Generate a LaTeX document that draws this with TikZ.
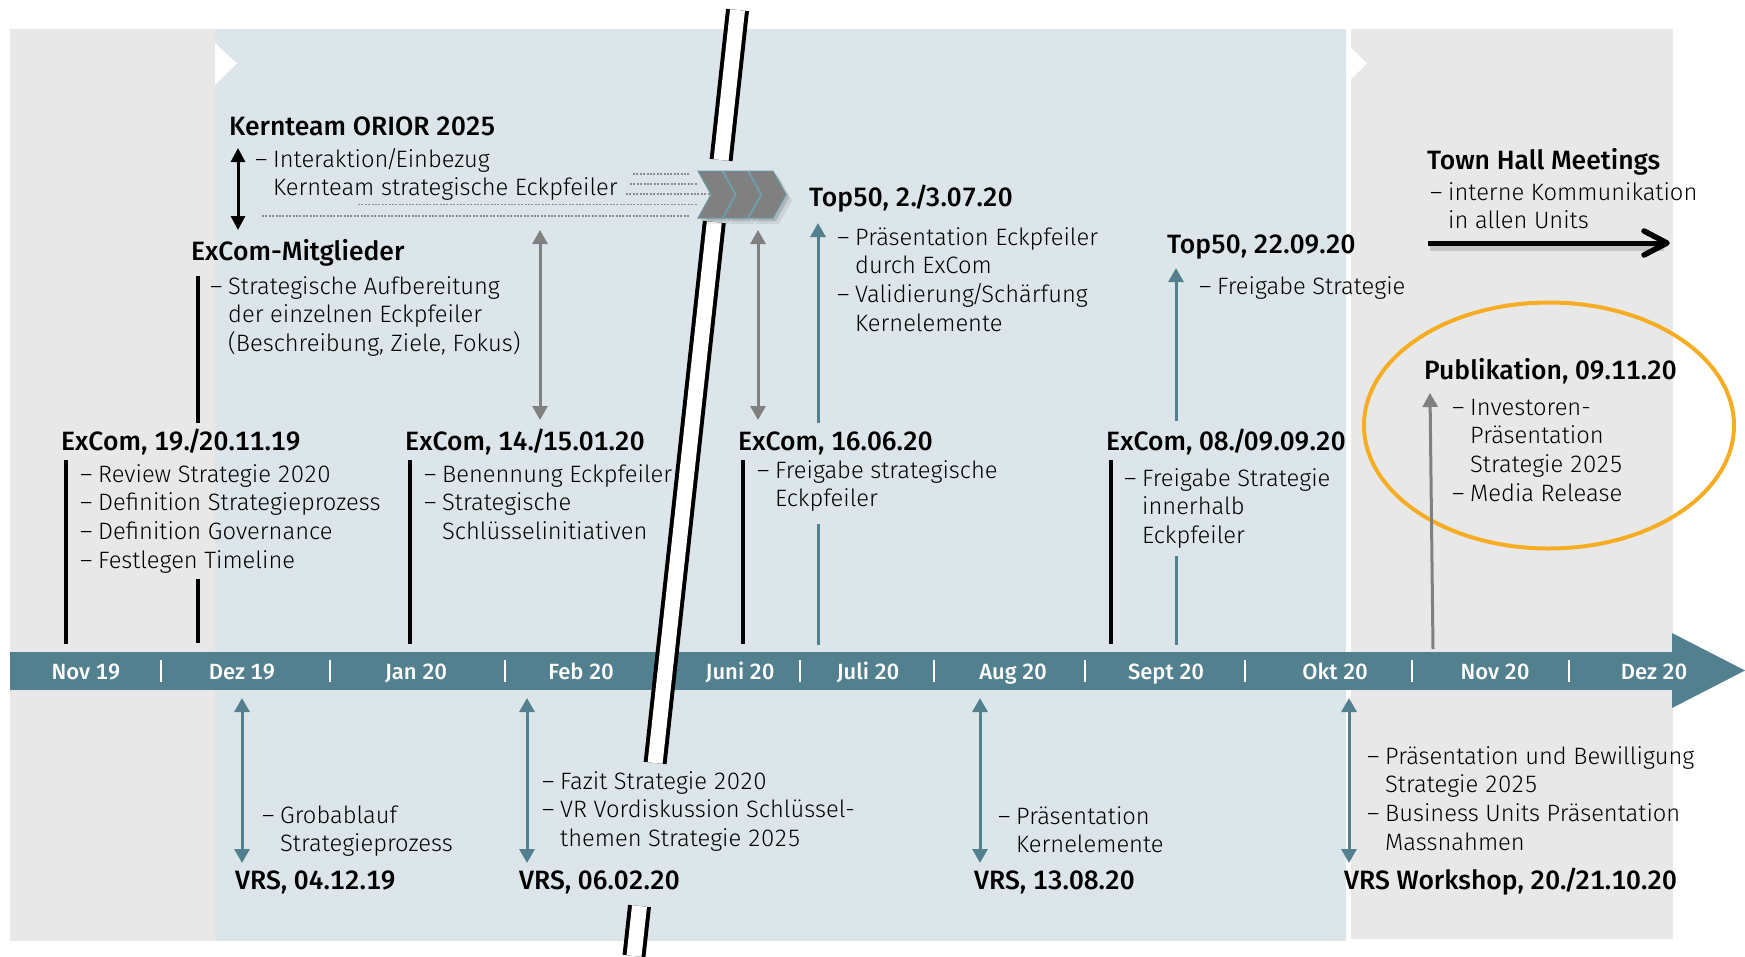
\documentclass[tikz,border=0pt]{standalone}
\usepackage{fontspec}
\setmainfont{Fira Sans Light}[BoldFont={Fira Sans Medium}, Numbers=Monospaced]
\usetikzlibrary{arrows.meta}
\definecolor{barcol}{RGB}{82,128,143}
\definecolor{panelgray}{RGB}{232,232,232}
\definecolor{panelblue}{RGB}{220,230,234}
\definecolor{arrgray}{RGB}{128,128,128}
\definecolor{dotgray}{RGB}{140,140,140}
\definecolor{ringcol}{RGB}{247,173,35}
\definecolor{chevline}{RGB}{106,152,166}
\newcommand{\dsh}{\makebox[18pt][l]{–}}
\newcommand{\tsl}{\kern-2.5pt/\kern-2.5pt}
\tikzset{
  titletext/.style={anchor=base west, inner sep=0pt, font=\bfseries\fontsize{26.5}{30}\selectfont},
  bodytext/.style={anchor=base west, inner sep=0pt, font=\fontsize{23.7}{28.8}\selectfont},
  monthtext/.style={anchor=base, inner sep=0pt, text=white, font=\bfseries\fontsize{22}{24}\selectfont},
  blackbar/.style={draw=black, line width=3.5pt},
  tealline/.style={draw=barcol, line width=3pt},
  tealup/.style={draw=barcol, line width=3pt, -{Triangle[width=15pt,length=14pt]}},
  tealboth/.style={draw=barcol, line width=3pt, {Triangle[width=15pt,length=14pt]}-{Triangle[width=15pt,length=14pt]}},
  grayboth/.style={draw=arrgray, line width=3pt, {Triangle[width=15pt,length=14pt]}-{Triangle[width=15pt,length=14pt]}},
  grayup/.style={draw=arrgray, line width=3pt, -{Triangle[width=15pt,length=14pt]}},
  blackboth/.style={draw=black, line width=3pt, {Triangle[width=14pt,length=14pt]}-{Triangle[width=14pt,length=14pt]}},
  dotline/.style={draw=dotgray, line width=1.8pt, dash pattern=on 2pt off 1.4pt},
  sepline/.style={draw=white, line width=2pt},
}
\begin{document}
\begin{tikzpicture}[x=1pt,y=-1pt]
\useasboundingbox (0,0) rectangle (1745,956);
% panels
\fill[panelgray] (10,29) rectangle (215,941);
\fill[panelblue] (215,29) rectangle (1346,941);
\fill[panelgray] (1351,29) rectangle (1673,939);
\fill[white] (215,43) -- (237,63.5) -- (215,85) -- cycle;
\fill[white] (1346,43) -- (1367,63.5) -- (1346,84) -- cycle;
% timeline bar
\fill[barcol] (10,652) rectangle (1673,690);
\fill[barcol] (1672,633) -- (1745,670.5) -- (1672,708) -- cycle;
% separators
\foreach \sx in {161,330,505,800,934,1085,1245,1412,1569}
  \draw[sepline] (\sx,660) -- (\sx,682);
% months
\node[monthtext] (m1) at (86,679) {Nov 19};
\node[monthtext] (m2) at (242,679) {Dez 19};
\node[monthtext] (m3) at (416,679) {Jan 20};
\node[monthtext] (m4) at (581,679) {Feb 20};
\node[monthtext] (m5) at (740,679) {Juni 20};
\node[monthtext] (m6) at (868,679) {Juli 20};
\node[monthtext] (m7) at (1013,679) {Aug 20};
\node[monthtext] (m8) at (1166,679) {Sept 20};
\node[monthtext] (m9) at (1335,679) {Okt 20};
\node[monthtext] (m10) at (1495,679) {Nov 20};
\node[monthtext] (m11) at (1654,679) {Dez 20};
% break line
\coordinate (br1) at (737.5,10);
\coordinate (br2) at (721.1,160);
\coordinate (br3) at (714.3,222);
\coordinate (br4) at (655.1,763);
\coordinate (br5) at (639.5,906);
\coordinate (br6) at (634.0,956);
\foreach \pa/\pb in {br1/br2,br3/br4,br5/br6}{
  \draw[black, line width=23pt] (\pa) -- (\pb);
  \draw[white, line width=15pt] (\pa) -- (\pb);
}
% dotted lines
\draw[dotline] (633,174) -- (690,174);
\draw[dotline] (630,184) -- (698,184);
\draw[dotline] (626,194) -- (710,194);
\draw[dotline] (358,204.5) -- (697,204.5);
\draw[dotline] (262,216) -- (690,216);
% chevrons
\foreach \cx in {698,723.5,749}{
  \fill[black, opacity=0.08, shift={(\cx+6,6)}] (0,171) -- (24,171) -- (37,194.5) -- (24,218) -- (0,218) -- (13,194.5) -- cycle;
  \fill[black, opacity=0.14, shift={(\cx+3,3)}] (0,171) -- (24,171) -- (37,194.5) -- (24,218) -- (0,218) -- (13,194.5) -- cycle;
}
\foreach \cx in {698,723.5,749}{
  \filldraw[fill=arrgray, draw=chevline, line width=1pt, shift={(\cx,0)}] (0,171) -- (24,171) -- (37,194.5) -- (24,218) -- (0,218) -- (13,194.5) -- cycle;
}
% orange ring
\draw[ringcol, line width=4pt] (1549,425.5) ellipse [x radius=185, y radius=123];
% town hall arrow
\coordinate (th1) at (1428,243);
\coordinate (th2) at (1664,243);
\draw[black, opacity=0.15, line width=8pt] (1430,247) -- (1664,247);
\draw[black, line width=5pt] (th1) -- (th2);
\draw[black, line width=5.5pt, line cap=round, line join=round] (1644,231) -- (1667,243) -- (1644,255);
% titles
\node[titletext] (t1) at (229,135) {Kernteam ORIOR 2025};
\node[titletext] (t2) at (191,260) {ExCom-Mitglieder};
\node[titletext] (t3) at (809,206) {Top50, 2.\tsl3.07.20};
\node[titletext] (t4) at (61,450) {ExCom, 19.\tsl20.11.19};
\node[titletext] (t5) at (405,450) {ExCom, 14.\tsl15.01.20};
\node[titletext] (t6) at (738,450) {ExCom, 16.06.20};
\node[titletext] (t7) at (1106,450) {ExCom, 08.\tsl09.09.20};
\node[titletext] (t8) at (1167,253) {Top50, 22.09.20};
\node[titletext] (t9) at (1427,169) {Town Hall Meetings};
\node[titletext] (t10) at (1424,379) {Publikation, 09.11.20};
\node[titletext] (t11) at (235,889) {VRS, 04.12.19};
\node[titletext] (t12) at (519,889) {VRS, 06.02.20};
\node[titletext] (t13) at (974,889) {VRS, 13.08.20};
\node[titletext] (t14) at (1344,889) {VRS Workshop, 20.\tsl21.10.20};
% body texts
\node[bodytext] (b1) at (255,167) {\begin{tabular}[t]{@{}l@{}l@{}}\dsh&Interaktion\tsl Einbezug\\&Kernteam strategische Eckpfeiler\end{tabular}};
\node[bodytext] (b2) at (210,294) {\begin{tabular}[t]{@{}l@{}l@{}}\dsh&Strategische Aufbereitung\\&der einzelnen Eckpfeiler\\&(Beschreibung, Ziele, Fokus)\end{tabular}};
\node[bodytext] (b3) at (837,245) {\begin{tabular}[t]{@{}l@{}l@{}}\dsh&Präsentation Eckpfeiler\\&durch ExCom\\\dsh&Validierung\tsl Schärfung\\&Kernelemente\end{tabular}};
\node[bodytext] (b4) at (80,482) {\begin{tabular}[t]{@{}l@{}l@{}}\dsh&Review Strategie 2020\\\dsh&Definition Strategieprozess\\\dsh&Definition Governance\\\dsh&Festlegen Timeline\end{tabular}};
\node[bodytext] (b5) at (424,482) {\begin{tabular}[t]{@{}l@{}l@{}}\dsh&Benennung Eckpfeiler\\\dsh&Strategische\\&Schlüsselinitiativen\end{tabular}};
\node[bodytext] (b6) at (757,478) {\begin{tabular}[t]{@{}l@{}l@{}}\dsh&Freigabe strategische\\&Eckpfeiler\end{tabular}};
\node[bodytext] (b7) at (1124,486) {\begin{tabular}[t]{@{}l@{}l@{}}\dsh&Freigabe Strategie\\&innerhalb\\&Eckpfeiler\end{tabular}};
\node[bodytext] (b8) at (1199,294) {\begin{tabular}[t]{@{}l@{}l@{}}\dsh&Freigabe Strategie\end{tabular}};
\node[bodytext] (b9) at (1430,200) {\begin{tabular}[t]{@{}l@{}l@{}}\dsh&interne Kommunikation\\&in allen Units\end{tabular}};
\node[bodytext] (b10) at (1452,415) {\begin{tabular}[t]{@{}l@{}l@{}}\dsh&Investoren-\\&Präsentation\\&Strategie 2025\\\dsh&Media Release\end{tabular}};
\node[bodytext] (b11) at (262,823) {\begin{tabular}[t]{@{}l@{}l@{}}\dsh&Grobablauf\\&Strategieprozess\end{tabular}};
\node[bodytext] (b12) at (542,789) {\begin{tabular}[t]{@{}l@{}l@{}}\dsh&Fazit Strategie 2020\\\dsh&VR Vordiskussion Schlüssel-\\&themen Strategie 2025\end{tabular}};
\node[bodytext] (b13) at (998,824) {\begin{tabular}[t]{@{}l@{}l@{}}\dsh&Präsentation\\&Kernelemente\end{tabular}};
\node[bodytext] (b14) at (1367,764) {\begin{tabular}[t]{@{}l@{}l@{}}\dsh&Präsentation und Bewilligung\\&Strategie 2025\\\dsh&Business Units Präsentation\\&Massnahmen\end{tabular}};
% vertical black lines
\draw[blackbar] (66,460) -- (66,644);
\draw[blackbar] (198,276) -- (198,423);
\draw[blackbar] (198,579) -- (198,643);
\draw[blackbar] (410,460) -- (410,644);
\draw[blackbar] (743,460) -- (743,644);
\draw[blackbar] (1111,460) -- (1111,644);
% arrows top
\draw[blackboth] (238,148) -- (238,230);
\draw[grayboth] (540,230) -- (540,420);
\draw[grayboth] (758,230) -- (758,420);
\draw[tealup] (818,423) -- (818,223);
\draw[tealline] (818,524) -- (818,645);
\draw[tealup] (1176,421) -- (1176,268);
\draw[tealline] (1176,556) -- (1176,645);
\draw[grayup] (1433,649) -- (1430,393);
% arrows bottom
\draw[tealboth] (242,698) -- (242,863);
\draw[tealboth] (527,698) -- (527,863);
\draw[tealboth] (980,698) -- (980,863);
\draw[tealboth] (1349,698) -- (1349,863);
\end{tikzpicture}
\end{document}
